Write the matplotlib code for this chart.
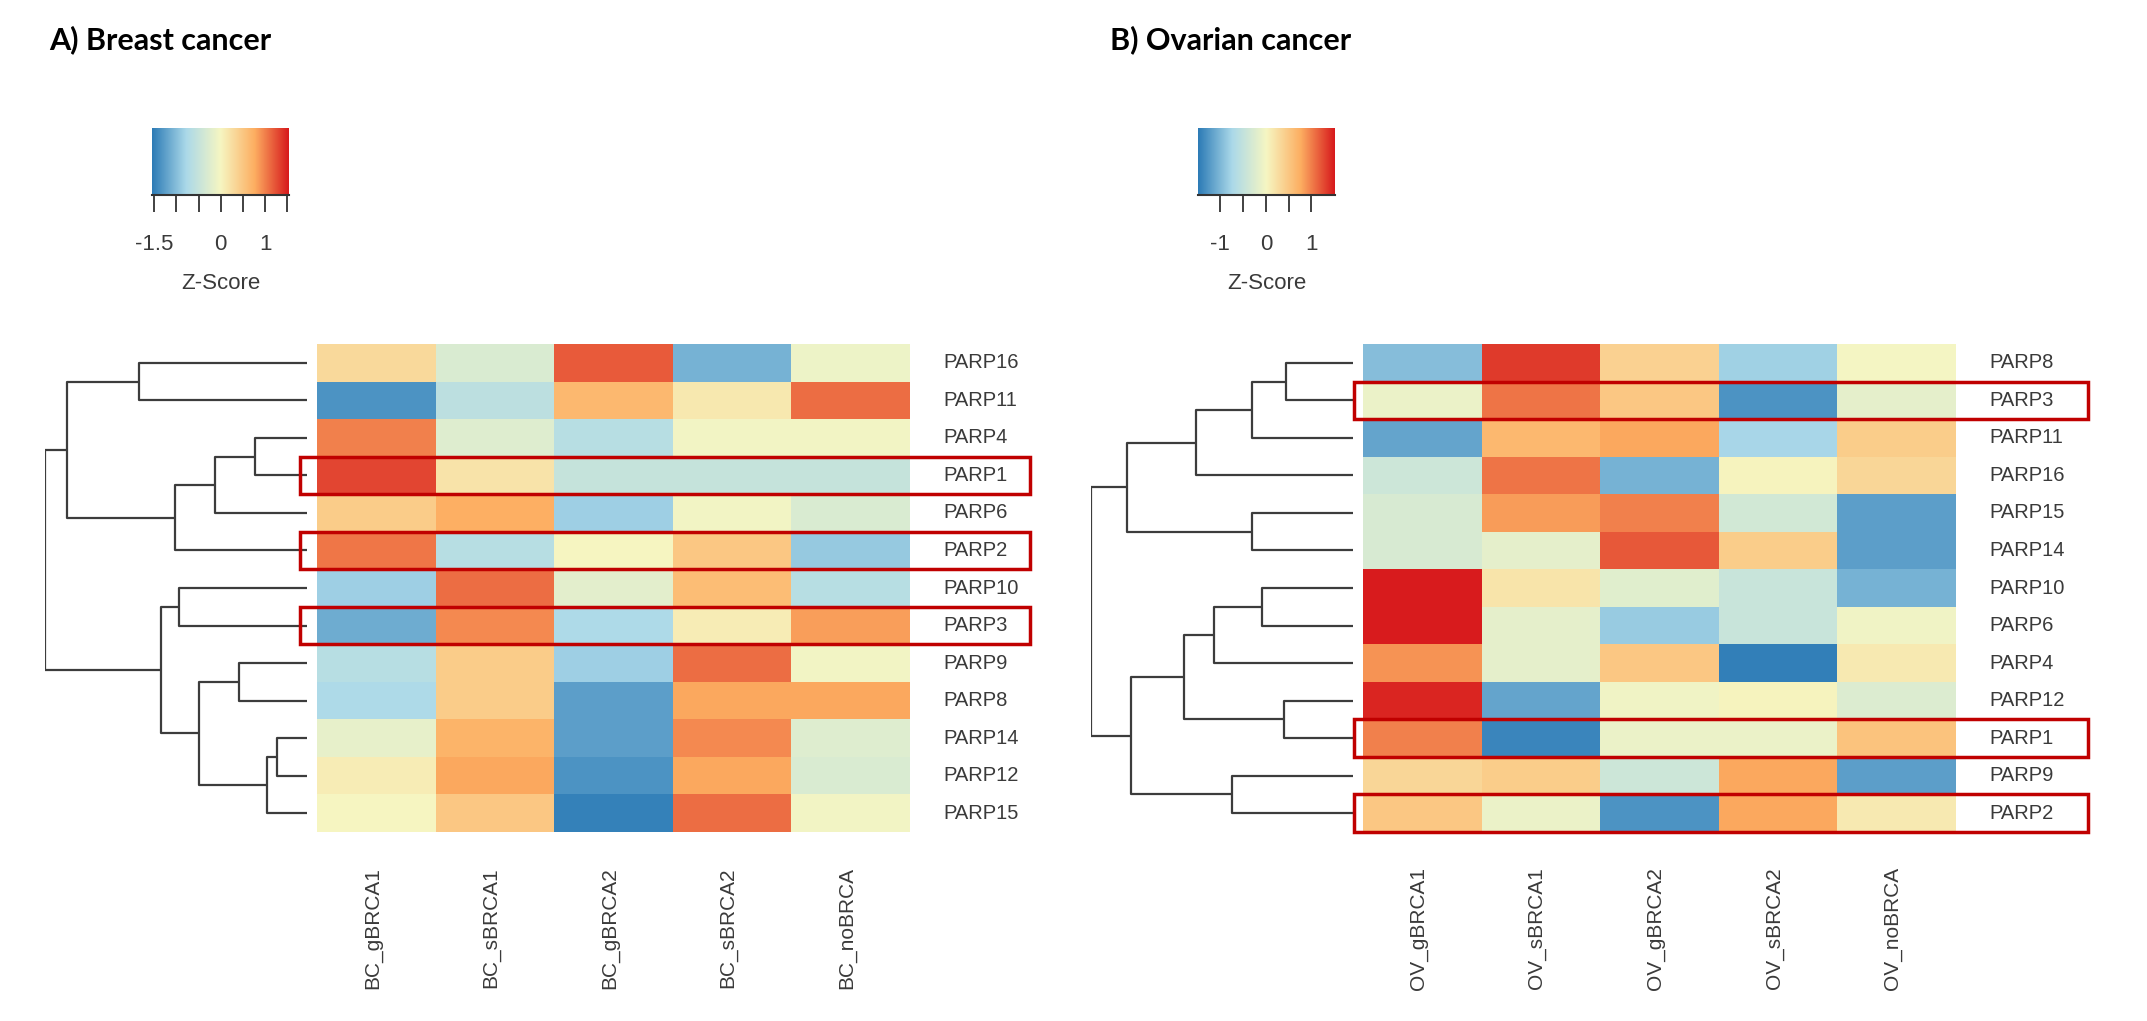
import numpy as np
import matplotlib
matplotlib.use("Agg")
import matplotlib.pyplot as plt
from matplotlib.colors import LinearSegmentedColormap
from matplotlib.patches import Rectangle

# ---- data -------------------------------------------------------------
bc_rows = ["PARP16", "PARP11", "PARP4", "PARP1", "PARP6", "PARP2", "PARP10",
           "PARP3", "PARP9", "PARP8", "PARP14", "PARP12", "PARP15"]
bc_cols = ["BC_gBRCA1", "BC_sBRCA1", "BC_gBRCA2", "BC_sBRCA2", "BC_noBRCA"]
bc_z = [
    [0.30, -0.30, 1.20, -1.10, -0.10],
    [-1.35, -0.60, 0.65, 0.15, 1.10],
    [1.00, -0.25, -0.65, -0.05, -0.05],
    [1.30, 0.20, -0.50, -0.50, -0.50],
    [0.45, 0.75, -0.85, -0.05, -0.30],
    [1.05, -0.65, 0.00, 0.50, -0.90],
    [-0.85, 1.10, -0.20, 0.60, -0.65],
    [-1.15, 0.95, -0.75, 0.10, 0.85],
    [-0.65, 0.45, -0.85, 1.10, -0.05],
    [-0.75, 0.45, -1.25, 0.80, 0.80],
    [-0.15, 0.70, -1.25, 0.95, -0.25],
    [0.10, 0.80, -1.35, 0.80, -0.30],
    [0.00, 0.50, -1.50, 1.10, -0.05],
]
# row dendrogram: (child a, child b, height); leaves 0..12 in row order
bc_tree = [(0, 1, 4.2), (2, 3, 1.3), (14, 4, 2.3), (15, 5, 3.3), (13, 16, 6.0),
           (6, 7, 3.2), (8, 9, 1.7), (10, 11, 0.75), (20, 12, 1.0),
           (19, 21, 2.7), (18, 22, 3.65), (17, 23, 6.55)]
bc_key = (-1.55, 1.54)
bc_ticks = [-1.5, -1.0, -0.5, 0.0, 0.5, 1.0, 1.5]
bc_ticklabels = ["-1.5", "", "", "0", "", "1", ""]
bc_boxed = ["PARP1", "PARP2", "PARP3"]

ov_rows = ["PARP8", "PARP3", "PARP11", "PARP16", "PARP15", "PARP14", "PARP10",
           "PARP6", "PARP4", "PARP12", "PARP1", "PARP9", "PARP2"]
ov_cols = ["OV_gBRCA1", "OV_sBRCA1", "OV_gBRCA2", "OV_sBRCA2", "OV_noBRCA"]
ov_z = [
    [-0.95, 1.35, 0.40, -0.80, 0.00],
    [-0.10, 1.05, 0.50, -1.30, -0.15],
    [-1.15, 0.65, 0.80, -0.75, 0.45],
    [-0.40, 1.05, -1.05, 0.05, 0.35],
    [-0.30, 0.85, 1.00, -0.35, -1.20],
    [-0.30, -0.15, 1.20, 0.45, -1.20],
    [1.50, 0.20, -0.20, -0.45, -1.05],
    [1.50, -0.15, -0.85, -0.45, -0.05],
    [0.90, -0.15, 0.50, -1.45, 0.15],
    [1.45, -1.15, -0.05, 0.05, -0.25],
    [1.00, -1.40, -0.10, -0.10, 0.55],
    [0.35, 0.45, -0.40, 0.80, -1.20],
    [0.50, -0.10, -1.30, 0.80, 0.15],
]
ov_tree = [(0, 1, 1.65), (13, 2, 2.5), (14, 3, 3.9), (4, 5, 2.5), (15, 16, 5.6),
           (6, 7, 2.25), (18, 8, 3.45), (9, 10, 1.7), (19, 20, 4.2),
           (11, 12, 3.0), (21, 22, 5.5), (17, 23, 6.5)]
ov_key = (-1.49, 1.52)
ov_ticks = [-1.0, -0.5, 0.0, 0.5, 1.0]
ov_ticklabels = ["-1", "", "0", "", "1"]
ov_boxed = ["PARP3", "PARP1", "PARP2"]

# ---- style ------------------------------------------------------------
cmap = LinearSegmentedColormap.from_list(
    "zs", ["#2c7bb6", "#abd9e9", "#f6f6c2", "#fdae61", "#d7191c"])
W, H = 2147, 1021
TXT = "#3a3a3a"
LAB_FONT = "Liberation Sans"
plt.rcParams["font.family"] = ["Liberation Sans", "DejaVu Sans"]

fig = plt.figure(figsize=(W / 100, H / 100), dpi=100)
fig.patch.set_facecolor("white")


def px_axes(x0, y0, x1, y1):
    return fig.add_axes([x0 / W, 1 - y1 / H, (x1 - x0) / W, (y1 - y0) / H])


def draw_panel(title, title_x, hx0, rows, cols, z, tree, key, ticks, ticklabels,
               boxed, box_x0, box_x1, label_dx):
    top, bottom = 344, 832
    hx1 = hx0 + 593
    nr, nc = len(rows), len(cols)
    rowh = (bottom - top) / nr
    colw = (hx1 - hx0) / nc

    # title
    fig.text(title_x / W, 1 - 40 / H, title, fontsize=22, fontweight="bold",
             family="Lato", ha="left", va="center", color="black")

    # heatmap
    ax = px_axes(hx0, top, hx1, bottom)
    ax.pcolormesh(np.arange(nc + 1), np.arange(nr + 1), np.array(z),
                  cmap=cmap, vmin=key[0], vmax=key[1])
    ax.set_xlim(0, nc)
    ax.set_ylim(nr, 0)
    ax.axis("off")
    for i, r in enumerate(rows):
        ax.text(nc + 33 / colw, i + 0.5, r, ha="left", va="center",
                fontsize=14.5, color=TXT, family=LAB_FONT)
    for j, c in enumerate(cols):
        ax.text(j + 0.5 + label_dx / colw, nr + 35 / rowh, c, rotation=90,
                ha="center", va="top", fontsize=15, color=TXT, family=LAB_FONT)

    # row dendrogram
    dx1 = hx0 - 10
    dx0 = dx1 - 262
    dax = px_axes(dx0, top, dx1, bottom)
    pos = {i: (i + 0.5, 0.0) for i in range(nr)}
    for k, (a, b, h) in enumerate(tree):
        ya, ha_ = pos[a]
        yb, hb = pos[b]
        dax.plot([ha_, h, h, hb], [ya, ya, yb, yb], color="#3c3c3c", lw=1.6,
                 solid_capstyle="butt")
        pos[nr + k] = ((ya + yb) / 2, h)
    root_h = tree[-1][2]
    dax.set_xlim(root_h, 0)
    dax.set_ylim(nr, 0)
    dax.axis("off")

    # colour key
    kax = px_axes(hx0 - 165, 128, hx0 - 28, 195)
    grad = np.linspace(key[0], key[1], 256)[None, :]
    kax.imshow(grad, extent=[key[0], key[1], 0, 1], aspect="auto", cmap=cmap,
               vmin=key[0], vmax=key[1])
    kax.set_xlim(key)
    kax.set_yticks([])
    for s in ["top", "left", "right"]:
        kax.spines[s].set_visible(False)
    kax.spines["bottom"].set_linewidth(1.5)
    kax.spines["bottom"].set_color("#333333")
    kax.set_xticks(ticks)
    kax.set_xticklabels(ticklabels)
    kax.tick_params(axis="x", length=12, width=1.3, color="#333333",
                    labelsize=16, labelcolor=TXT, pad=16)
    kax.set_xlabel("Z-Score", fontsize=16, color=TXT, labelpad=13)

    # red highlight boxes
    for name in boxed:
        i = rows.index(name)
        y0 = top + i * rowh
        fig.add_artist(Rectangle((box_x0 / W, 1 - (y0 + rowh) / H),
                                 (box_x1 - box_x0) / W, rowh / H,
                                 transform=fig.transFigure, fill=False,
                                 ec="#c00000", lw=2.5))


draw_panel("A) Breast cancer", 49, 317, bc_rows, bc_cols, bc_z, bc_tree,
           bc_key, bc_ticks, bc_ticklabels, bc_boxed, 300, 1030, -4)
draw_panel("B) Ovarian cancer", 1110, 1363, ov_rows, ov_cols, ov_z, ov_tree,
           ov_key, ov_ticks, ov_ticklabels, ov_boxed, 1354, 2088, -4)

fig.savefig("out.png", dpi=100, facecolor="white")
